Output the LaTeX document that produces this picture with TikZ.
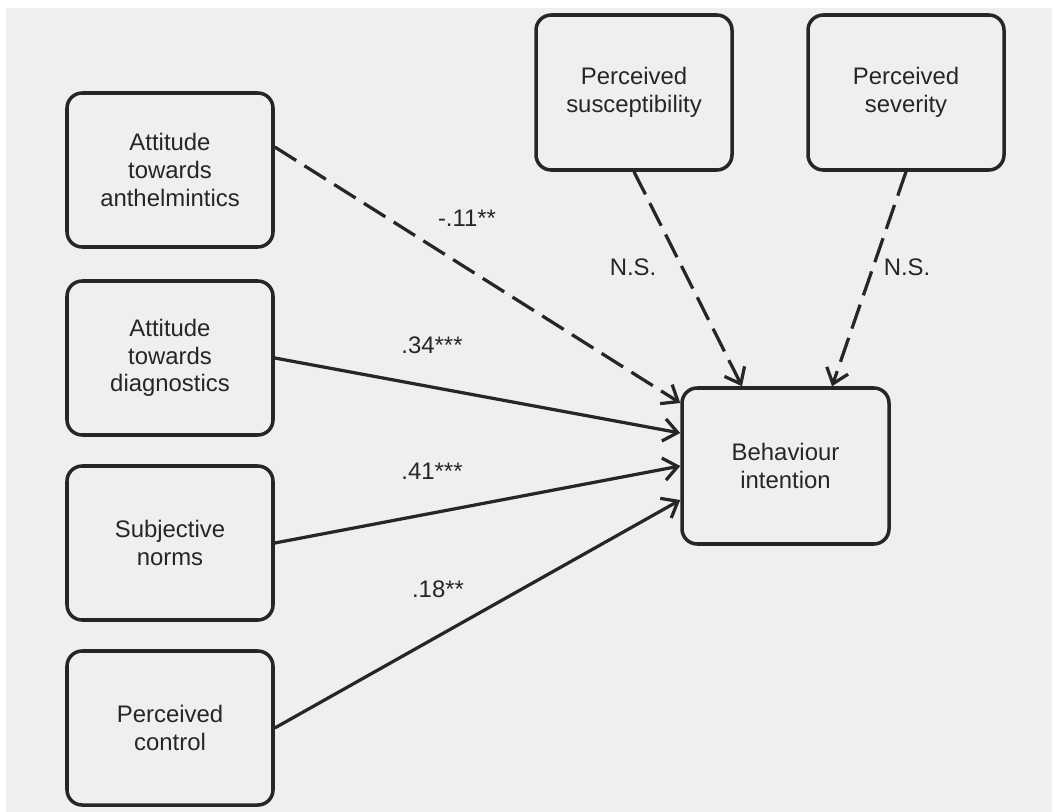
\documentclass[tikz,border=0pt]{standalone}
\usepackage{fontspec}
\setmainfont{Liberation Sans}
\usetikzlibrary{arrows.meta}
\definecolor{canvas}{HTML}{EFEFEF}
\definecolor{ink}{HTML}{262626}
\begin{document}
\begin{tikzpicture}[
  factor/.style={draw=ink, line width=2.5pt, rounded corners=0.38cm, align=center, inner sep=0pt, minimum width=5.15cm, minimum height=3.85cm, text=ink, font=\fontsize{17}{19.6}\selectfont},
  coef/.style={text=ink, inner sep=1pt, font=\fontsize{17}{19.6}\selectfont},
  path/.style={draw=ink, line width=2.3pt, ->, >={Straight Barb[length=10pt,width=16pt,line width=2.3pt]}},
  ns/.style={path, dash pattern=on 18pt off 7pt}]
\useasboundingbox[fill=white] (0,0) rectangle (26.3,-20.3);
\fill[canvas] (0.15,-0.2) rectangle (26.3,-20.3);

\node[factor] (anth) at (4.25,-4.25) {Attitude\\towards\\anthelmintics};
\node[factor] (diag) at (4.25,-8.95) {Attitude\\towards\\diagnostics};
\node[factor] (norms) at (4.25,-13.575) {Subjective\\norms};
\node[factor] (control) at (4.25,-18.2) {Perceived\\control};
\node[factor, minimum width=4.9cm, minimum height=3.875cm] (suscept) at (15.85,-2.3125) {Perceived\\susceptibility};
\node[factor, minimum width=4.9cm, minimum height=3.875cm] (severity) at (22.65,-2.3125) {Perceived\\severity};
\node[factor, minimum width=5.175cm, minimum height=3.9cm] (behav) at (19.6375,-11.65) {Behaviour\\intention};

\draw[ns] ([yshift=0.575cm]anth.east) -- ([yshift=1.575cm]behav.west);
\draw[path] (diag.east) -- ([yshift=0.825cm]behav.west);
\draw[path] (norms.east) -- (behav.west);
\draw[path] (control.east) -- ([yshift=-0.85cm]behav.west);
\draw[ns] (suscept.south) -- ([xshift=-1.0875cm]behav.north);
\draw[ns] (severity.south) -- ([xshift=1.1625cm]behav.north);

\node[coef] (b1) at (11.675,-5.45) {-.11**};
\node[coef] (b2) at (10.8,-8.625) {.34***};
\node[coef] (b3) at (10.8,-11.775) {.41***};
\node[coef] (b4) at (10.95,-14.725) {.18**};
\node[coef] (b5) at (15.825,-6.675) {N.S.};
\node[coef] (b6) at (22.675,-6.675) {N.S.};
\end{tikzpicture}
\end{document}
